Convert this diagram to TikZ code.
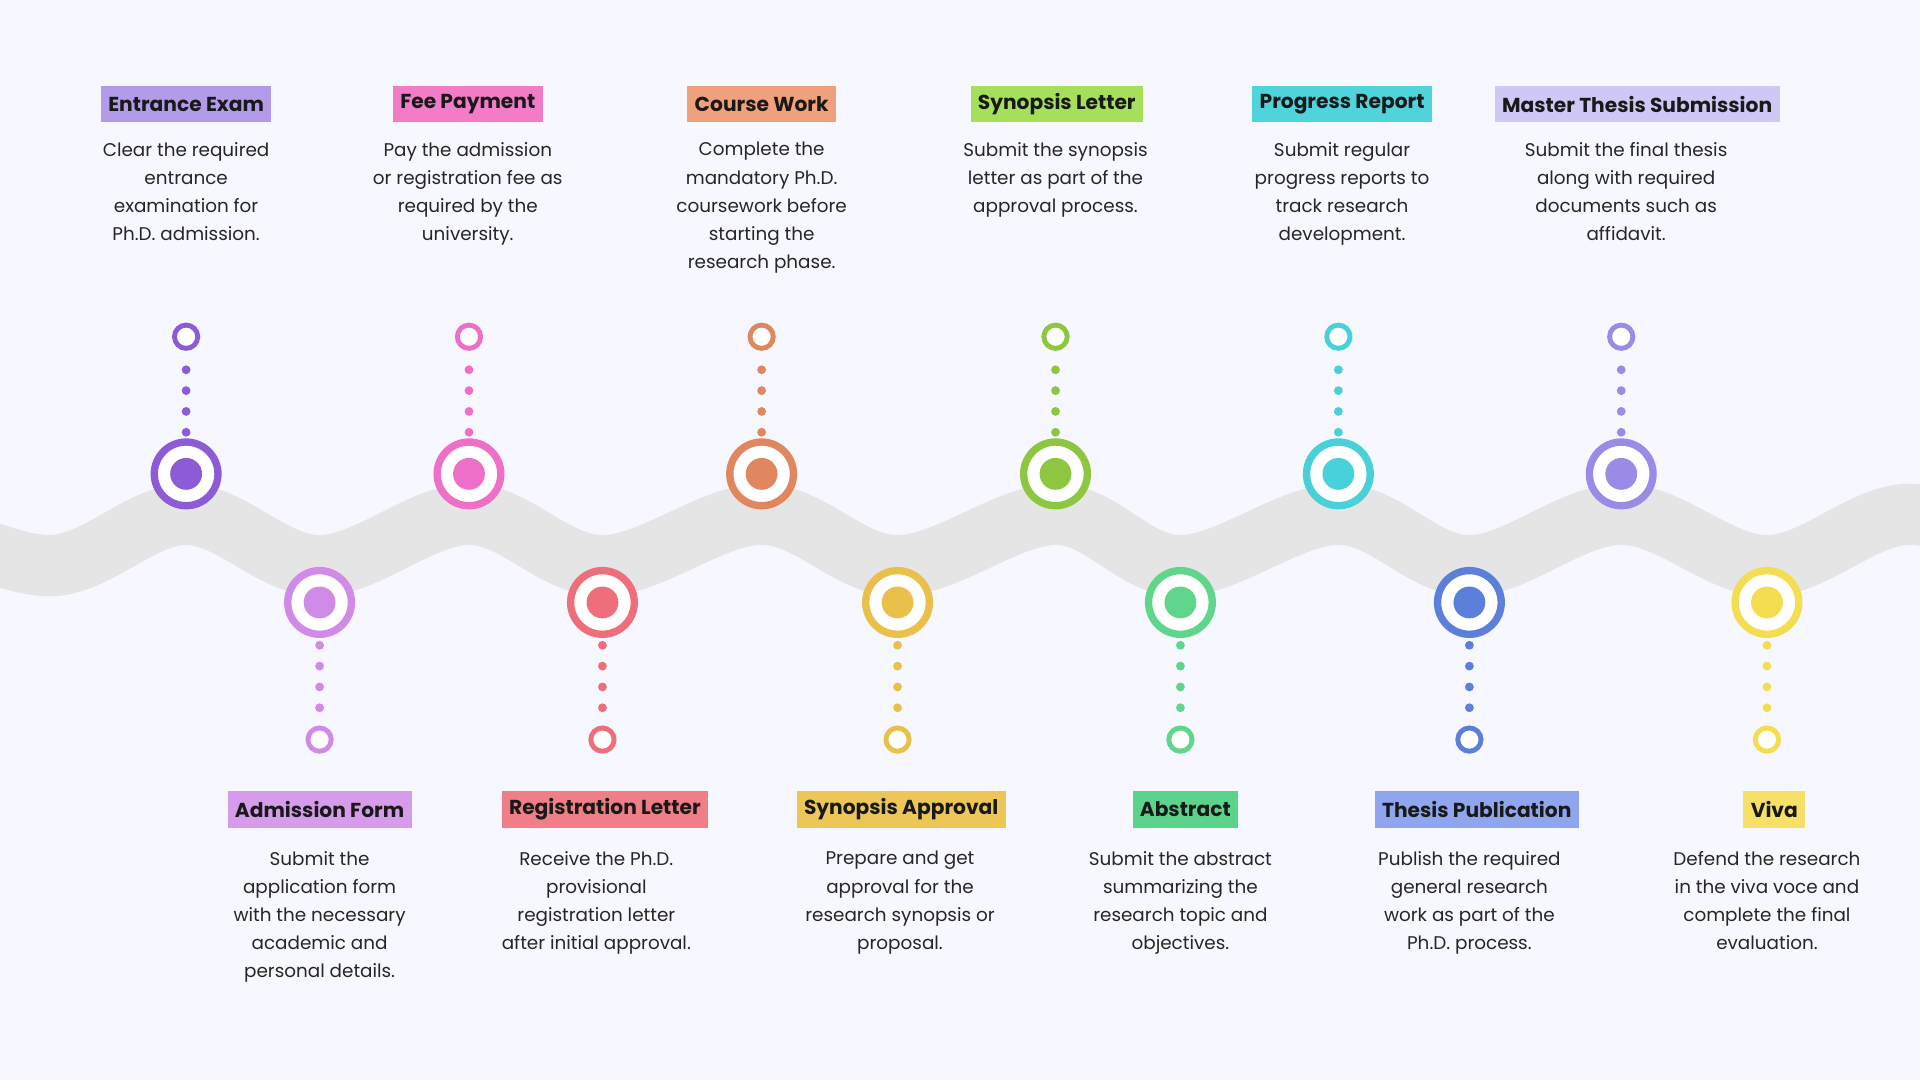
\documentclass[tikz,border=0pt]{standalone}
\usepackage{fontspec}
\setmainfont{Poppins}
\begin{document}
\begin{tikzpicture}[x=1pt,y=-1pt,
  lab/.style={fill=#1,inner xsep=6pt,inner ysep=0pt,minimum height=30pt,font=\fontsize{16.5}{20}\selectfont\bfseries,text=black!90},
  desc/.style={align=center,font=\fontsize{15}{23}\selectfont,text=black!85,anchor=north,inner sep=0pt},
  big/.style={circle,draw=#1,line width=6pt,minimum size=52pt,inner sep=0pt,fill=white},
  small/.style={circle,draw=#1,line width=4pt,minimum size=19pt,inner sep=0pt,fill=white}]
\useasboundingbox (0,0) rectangle (1568,882);
\fill[white!97!blue] (0,0) rectangle (1568,882);
\clip (0,0) rectangle (1568,882);
\draw[line width=50pt,color=black!10] plot[smooth,tension=0.6] coordinates{(-80,420)(40,462)(152,420)(261,462)(383,420)(492,462)(622,420)(733,462)(862,420)(964,462)(1093,420)(1200,462)(1324,420)(1443,462)(1560,420)(1680,462)};
% top items
\foreach \n/\x/\lx/\dx/\cc/\bg/\t/\d in {
 a/152/152/152/8E5BD6/B49BEA/Entrance Exam/{Clear the required\\entrance\\examination for\\Ph.D. admission.},
 b/383/382/382/EE6FC7/F27CC8/Fee Payment/{Pay the admission\\or registration fee as\\required by the\\university.},
 c/622/622/622/E0875F/F0A07C/Course Work/{Complete the\\mandatory Ph.D.\\coursework before\\starting the\\research phase.},
 d/862/863/862/8DC63F/A6E05A/Synopsis Letter/{Submit the synopsis\\letter as part of the\\approval process.},
 e/1093/1096/1096/48D1D8/4FD4DC/Progress Report/{Submit regular\\progress reports to\\track research\\development.},
 f/1324/1337/1328/9B8BE6/CFC8F5/Master Thesis Submission/{Submit the final thesis\\along with required\\documents such as\\affidavit.}}{
  \definecolor{col\n}{HTML}{\cc}\definecolor{bg\n}{HTML}{\bg}
  \node[lab=bg\n] (l\n) at (\lx,85) {\t};
  \node[desc] (d\n) at (\dx,116) {\d};
  \foreach \yy in {302,319,336,353} \fill[col\n] (\x,\yy) circle (3.6);
  \node[small=col\n] (s\n) at (\x,275) {};
  \node[big=col\n] (b\n) at (\x,387) {};
  \fill[col\n] (b\n.center) circle (13);
}
\foreach \n/\x/\lx/\dx/\cc/\bg/\t/\d in {
 g/261/261/261/D08AE8/D79BEB/Admission Form/{Submit the\\application form\\with the necessary\\academic and\\personal details.},
 h/492/494/487/EE6F7B/F07E86/Registration Letter/{Receive the Ph.D.\\provisional\\registration letter\\after initial approval.},
 i/733/736/735/E8C04A/ECC657/Synopsis Approval/{Prepare and get\\approval for the\\research synopsis or\\proposal.},
 j/964/968/964/5FD68B/5CD38A/Abstract/{Submit the abstract\\summarizing the\\research topic and\\objectives.},
 k/1200/1206/1200/5B7FDB/8FA5EE/Thesis Publication/{Publish the required\\general research\\work as part of the\\Ph.D. process.},
 v/1443/1449/1443/F5DD52/F7E068/Viva/{Defend the research\\in the viva voce and\\complete the final\\evaluation.}}{
  \definecolor{col\n}{HTML}{\cc}\definecolor{bg\n}{HTML}{\bg}
  \node[lab=bg\n] (l\n) at (\lx,661) {\t};
  \node[desc] (d\n) at (\dx,695) {\d};
  \foreach \yy in {527,544,561,578} \fill[col\n] (\x,\yy) circle (3.6);
  \node[small=col\n] (s\n) at (\x,604) {};
  \node[big=col\n] (b\n) at (\x,492) {};
  \fill[col\n] (b\n.center) circle (13);
}
\end{tikzpicture}
\end{document}
